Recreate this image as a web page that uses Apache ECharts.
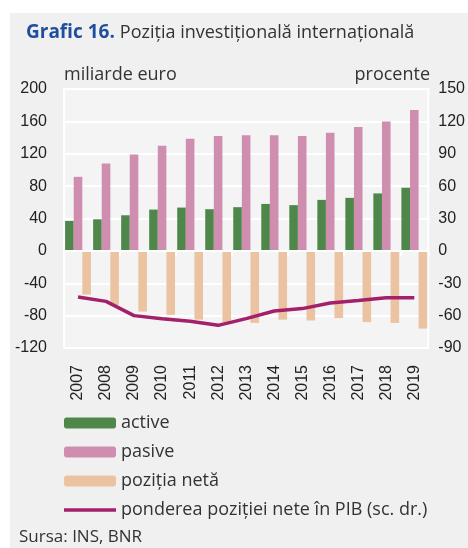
<!DOCTYPE html>
<html><head><meta charset="utf-8">
<script src="https://cdn.jsdelivr.net/npm/echarts@6/dist/echarts.min.js"></script>
<style>html,body{margin:0;padding:0;background:#fff}#c{width:468px;height:548px}</style>
</head><body><div id="c"></div>
<script>
const years = ['2007','2008','2009','2010','2011','2012','2013','2014','2015','2016','2017','2018','2019'];
const active = [37, 39, 44, 51, 53.5, 51.5, 54, 58, 56.5, 63, 65.5, 71, 78];
const pasive = [91.5, 108, 119, 130, 138.5, 142, 143, 143, 142, 146, 153, 160, 174];
const netPos = [-54, -67, -75, -79, -85, -88, -89, -85, -86, -83, -88, -89, -96];
const shareGDP = [-42.7, -46.8, -60, -63, -65.2, -69, -62.8, -55.7, -53.5, -48.3, -46, -43.4, -43.4];
const leftTicks = {min: -120, max: 200, interval: 40};
const rightTicks = {min: -90, max: 150, interval: 30};

const FT = '"Open Sans","Noto Sans",sans-serif';
const FN = '"Liberation Sans",Arial,sans-serif';
const chart = echarts.init(document.getElementById('c'), null, {renderer: 'canvas'});
chart.setOption({
  animation: false,
  backgroundColor: '#ffffff',
  graphic: [
    {type: 'rect', shape: {x: 10, y: 13, width: 470, height: 540}, style: {fill: '#f0f0f0'}, z: -10, silent: true},
    {type: 'text', x: 64, y: 75, style: {text: 'miliarde euro', font: '18px ' + FT, fill: '#333', textVerticalAlign: 'middle'}},
    {type: 'text', x: 430, y: 75, style: {text: 'procente', font: '18px ' + FT, fill: '#333', textAlign: 'right', textVerticalAlign: 'middle'}},
    {type: 'text', x: 19, y: 537, style: {text: 'Sursa: INS, BNR', font: '17px ' + FT, fill: '#333', textVerticalAlign: 'middle'}}
  ],
  title: {
    left: 26, top: 23, padding: 0,
    text: '{a|Grafic 16.} {b|Poziția investițională internațională}',
    textStyle: {rich: {
      a: {fontFamily: FT, fontSize: 19, fontWeight: 'bold', color: '#1f4e9e'},
      b: {fontFamily: FT, fontSize: 18, fontWeight: 'normal', color: '#333'}
    }}
  },
  legend: {
    orient: 'vertical', left: 64, top: 414, padding: 0,
    itemWidth: 52, itemHeight: 11, itemGap: 11,
    textStyle: {fontFamily: FT, fontSize: 18, color: '#333', lineHeight: 18},
    data: ['active', 'pasive', 'poziția netă',
      {name: 'ponderea poziției nete în PIB (sc. dr.)', icon: 'path://M0,0 L52,0 L52,3.5 L0,3.5 Z'}]
  },
  grid: {left: 64, right: 38, top: 89, bottom: 200, show: true, backgroundColor: '#f4f4f4', borderColor: '#ffffff', borderWidth: 2},
  xAxis: [
    {type: 'category', data: years, position: 'bottom',
     axisLine: {show: false, onZero: false}, axisTick: {show: false},
     axisLabel: {rotate: 90, margin: 17, fontFamily: FN, fontSize: 16, color: '#222'}},
    {type: 'category', data: years, position: 'bottom', z: 3,
     axisLine: {show: true, onZero: true, onZeroAxisIndex: 0, lineStyle: {color: '#ffffff', width: 2}},
     axisTick: {show: true, length: 5, lineStyle: {color: '#ffffff', width: 2}},
     axisLabel: {show: false}, splitLine: {show: false}}
  ],
  yAxis: [
    {type: 'value', min: leftTicks.min, max: leftTicks.max, interval: leftTicks.interval,
     axisLine: {show: false}, axisTick: {show: false},
     axisLabel: {margin: 17, fontFamily: FN, fontSize: 16, color: '#222'},
     splitLine: {lineStyle: {color: '#ffffff', width: 2}}},
    {type: 'value', min: rightTicks.min, max: rightTicks.max, interval: rightTicks.interval,
     axisLine: {show: false}, axisTick: {show: false},
     axisLabel: {margin: 10, fontFamily: FN, fontSize: 16, color: '#222'},
     splitLine: {show: false}}
  ],
  series: [
    {name: 'active', type: 'bar', data: active, barWidth: 8.6, barGap: '0%', itemStyle: {color: '#4f874b'}},
    {name: 'pasive', type: 'bar', data: pasive, barWidth: 8.6, barGap: '0%', itemStyle: {color: '#cf8eb0'}},
    {name: 'poziția netă', type: 'bar', data: netPos, barWidth: 8.6, barGap: '0%', itemStyle: {color: '#ecc3a0'}},
    {name: 'ponderea poziției nete în PIB (sc. dr.)', type: 'line', yAxisIndex: 1, data: shareGDP,
     symbol: 'none', lineStyle: {color: '#a3206b', width: 3.5}, itemStyle: {color: '#a3206b'}, z: 5}
  ]
});
</script></body></html>
